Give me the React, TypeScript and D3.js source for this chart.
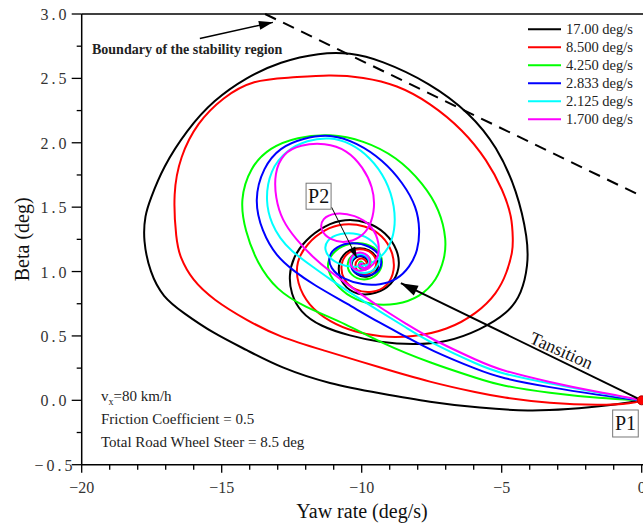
import * as d3 from "d3";
import React from "react";

// trajectories: [yaw rate (deg/s), beta (deg)], all start at P1 and spiral into P2
const traj17: [number, number][] = [
  [0, 0], [-1.13, -0.04], [-2.67, -0.07], [-3.99, -0.085], [-5.78, -0.06], [-7.56, -0.015],
  [-9.35, 0.055], [-11.13, 0.125], [-12.92, 0.255], [-14.1, 0.39], [-15.3, 0.52], [-16.38, 0.68],
  [-17.1, 0.8], [-17.56, 0.99], [-17.81, 1.245], [-17.74, 1.44], [-17.56, 1.555], [-17.1, 1.81],
  [-16.24, 2.1], [-15.3, 2.33], [-14.1, 2.51], [-12.92, 2.63], [-11.49, 2.7], [-10.42, 2.7],
  [-9.35, 2.645], [-7.56, 2.465], [-6.13, 2.23], [-5.17, 1.97], [-4.45, 1.63], [-4.06, 1.245],
  [-4.06, 1.05], [-4.28, 0.83], [-4.78, 0.675], [-5.78, 0.545], [-6.95, 0.45], [-8.17, 0.43],
  [-9.35, 0.45], [-10.42, 0.5], [-11.49, 0.575], [-12.2, 0.685], [-12.53, 0.83], [-12.6, 0.97],
  [-12.45, 1.11], [-12.02, 1.245], [-11.31, 1.36], [-10.6, 1.41], [-9.81, 1.39], [-9.13, 1.305],
  [-8.7, 1.165], [-8.63, 1.025], [-8.92, 0.895], [-9.49, 0.825], [-10.17, 0.815], [-10.7, 0.895],
  [-10.88, 1.025], [-10.7, 1.135], [-10.24, 1.19], [-9.7, 1.175], [-9.38, 1.095], [-9.42, 1.0],
  [-9.78, 0.95], [-10.2, 0.97], [-10.42, 1.05], [-10.24, 1.12], [-9.88, 1.12], [-9.7, 1.055],
  [-9.95, 1.01], [-10.06, 1.065], [-9.95, 1.065],
];

const traj8500: [number, number][] = [
  [0, 0], [-0.31, -0.025], [-1.49, -0.04], [-3.28, -0.025], [-5.06, 0.025], [-5.78, 0.055],
  [-7.56, 0.14], [-9.35, 0.255], [-11.38, 0.39], [-12.92, 0.49], [-14.1, 0.62], [-15.3, 0.78],
  [-16.06, 0.935], [-16.49, 1.11], [-16.63, 1.245], [-16.74, 1.61], [-16.49, 1.89], [-15.88, 2.155],
  [-14.95, 2.355], [-13.88, 2.49], [-12.56, 2.505], [-11.13, 2.53], [-9.95, 2.51], [-8.74, 2.45],
  [-7.56, 2.31], [-6.38, 2.1], [-5.52, 1.865], [-4.95, 1.63], [-4.63, 1.425], [-4.6, 1.245],
  [-4.6, 1.165], [-4.81, 0.99], [-5.17, 0.83], [-5.88, 0.675], [-6.95, 0.545], [-8.17, 0.49],
  [-9.35, 0.49], [-10.24, 0.53], [-11.13, 0.605], [-11.92, 0.74], [-12.31, 0.91], [-12.35, 1.075],
  [-11.95, 1.22], [-11.31, 1.33], [-10.67, 1.375], [-9.88, 1.36], [-9.24, 1.28], [-8.88, 1.15],
  [-8.81, 1.01], [-9.06, 0.885], [-9.63, 0.83], [-10.24, 0.85], [-10.67, 0.935], [-10.77, 1.05],
  [-10.56, 1.145], [-10.06, 1.185], [-9.6, 1.15], [-9.42, 1.065], [-9.6, 0.99], [-9.99, 0.965],
  [-10.27, 1.025], [-10.17, 1.105], [-9.85, 1.1], [-9.78, 1.04], [-9.95, 1.065],
];

const traj4250: [number, number][] = [
  [0, 0], [-1.49, 0.015], [-3.28, 0.055], [-5.06, 0.115], [-5.78, 0.165], [-7.56, 0.29],
  [-9.35, 0.45], [-10.52, 0.59], [-12.1, 0.73], [-13.03, 0.855], [-13.74, 1.065], [-14.17, 1.32],
  [-14.35, 1.555], [-13.99, 1.81], [-13.28, 1.965], [-12.31, 2.045], [-11.13, 2.07], [-9.95, 2.02],
  [-8.74, 1.89], [-7.81, 1.685], [-7.2, 1.475], [-6.97, 1.245], [-7.04, 1.1], [-7.31, 0.935],
  [-7.92, 0.8], [-8.74, 0.74], [-9.7, 0.74], [-10.42, 0.8], [-10.95, 0.9], [-11.3, 1.04],
  [-11.06, 1.145], [-10.6, 1.215], [-9.95, 1.23], [-9.42, 1.175], [-9.2, 1.075], [-9.42, 0.965],
  [-9.92, 0.925], [-10.42, 0.97], [-10.56, 1.065], [-10.31, 1.145], [-9.85, 1.145], [-9.6, 1.075],
  [-9.81, 1.0], [-10.17, 1.025], [-10.06, 1.09], [-9.95, 1.065],
];

const traj2833: [number, number][] = [
  [0, 0], [-0.31, 0.005], [-1.49, 0.04], [-3.28, 0.1], [-5.06, 0.175], [-5.78, 0.23],
  [-7.56, 0.39], [-8.38, 0.49], [-9.35, 0.6], [-10.52, 0.75], [-11.74, 0.9], [-12.4, 1.0],
  [-13.06, 1.12], [-13.56, 1.31], [-13.85, 1.555], [-13.52, 1.81], [-12.92, 1.965], [-12.1, 2.035],
  [-11.13, 2.07], [-10.17, 2.0], [-9.24, 1.865], [-8.53, 1.69], [-8.03, 1.5], [-7.92, 1.32],
  [-7.99, 1.165], [-8.28, 1.035], [-8.74, 0.935], [-9.35, 0.895], [-9.95, 0.895], [-10.67, 0.94],
  [-11.13, 1.025], [-11.2, 1.12], [-10.92, 1.195], [-10.35, 1.23], [-9.7, 1.2], [-9.31, 1.125],
  [-9.27, 1.03], [-9.63, 0.965], [-10.13, 0.965], [-10.45, 1.035], [-10.31, 1.12], [-9.85, 1.13],
  [-9.67, 1.055], [-9.92, 1.01], [-10.17, 1.055], [-9.95, 1.065],
];

const traj2125: [number, number][] = [
  [0, 0], [-1.49, 0.055], [-3.28, 0.13], [-5.06, 0.21], [-5.78, 0.27], [-7.56, 0.45],
  [-8.38, 0.56], [-9.35, 0.69], [-10.52, 0.85], [-11.13, 0.94], [-11.74, 1.035], [-12.56, 1.165],
  [-12.92, 1.26], [-13.2, 1.36], [-13.45, 1.54], [-13.28, 1.79], [-12.67, 1.945], [-11.96, 2.02],
  [-11.13, 2.045], [-10.42, 2.0], [-9.7, 1.89], [-9.1, 1.71], [-8.81, 1.5], [-8.81, 1.32],
  [-9.02, 1.18], [-9.45, 1.08], [-10.13, 1.025], [-10.85, 1.05], [-11.35, 1.145], [-11.28, 1.245],
  [-10.77, 1.3], [-10.13, 1.3], [-9.56, 1.235], [-9.31, 1.145], [-9.38, 1.04], [-9.78, 0.98],
  [-10.24, 0.995], [-10.45, 1.07], [-10.2, 1.145], [-9.77, 1.13], [-9.7, 1.05], [-9.99, 1.01],
  [-10.13, 1.07], [-9.95, 1.065],
];

const traj1700: [number, number][] = [
  [0, 0], [-0.31, 0.015], [-1.49, 0.06], [-3.28, 0.14], [-5.06, 0.235], [-5.78, 0.3],
  [-7.56, 0.48], [-8.38, 0.59], [-9.35, 0.72], [-10.52, 0.9], [-11.13, 1.0], [-11.74, 1.11],
  [-12.35, 1.25], [-12.85, 1.4], [-13.08, 1.57], [-13.12, 1.765], [-12.81, 1.92], [-12.2, 1.985],
  [-11.31, 2.0], [-10.52, 1.945], [-9.95, 1.81], [-9.6, 1.655], [-9.52, 1.5], [-9.7, 1.345],
  [-10.06, 1.26], [-10.6, 1.22], [-11.13, 1.245], [-11.49, 1.32], [-11.42, 1.415], [-10.95, 1.46],
  [-10.24, 1.44], [-9.63, 1.36], [-9.35, 1.22], [-9.42, 1.09], [-9.78, 1.01], [-10.24, 1.0],
  [-10.49, 1.07], [-10.27, 1.15], [-9.85, 1.15], [-9.63, 1.07], [-9.88, 1.01], [-10.17, 1.05],
  [-9.95, 1.065],
];

const seriesLabels = ["17.00 deg/s", "8.500 deg/s", "4.250 deg/s", "2.833 deg/s", "2.125 deg/s", "1.700 deg/s"];
const seriesColors = ["#000000", "#ff0000", "#00ff00", "#0000ff", "#00ffff", "#ff00ff"];
const seriesData = [traj17, traj8500, traj4250, traj2833, traj2125, traj1700];

// stability boundary (dashed)
const boundary: [number, number][] = [[-13.45, 3.0], [0, 1.585]];

const xTicks = [-20, -15, -10, -5, 0];
const yTicks = [-0.5, 0, 0.5, 1.0, 1.5, 2.0, 2.5, 3.0];

const W = 643;
const H = 527;
const xScale = d3.scaleLinear().domain([-20, 0]).range([81.7, 641.7]);
const yScale = d3.scaleLinear().domain([-0.5, 3]).range([464.7, 14]);

const serif = "'Liberation Serif', 'Times New Roman', serif";

function arrowHead(x1: number, y1: number, x2: number, y2: number, len: number, half: number) {
  const a = Math.atan2(y2 - y1, x2 - x1);
  const bx = x2 - len * Math.cos(a);
  const by = y2 - len * Math.sin(a);
  const px = -Math.sin(a) * half;
  const py = Math.cos(a) * half;
  return `${x2},${y2} ${bx + px},${by + py} ${bx - px},${by - py}`;
}

export default function App() {
  const line = d3
    .line<[number, number]>()
    .x((d) => xScale(d[0]))
    .y((d) => yScale(d[1]))
    .curve(d3.curveBasis);

  const straight = d3
    .line<[number, number]>()
    .x((d) => xScale(d[0]))
    .y((d) => yScale(d[1]));

  const minorX = d3.range(-20, 0.001, 1);
  const minorY = d3.range(-0.5, 3.001, 0.25);
  const fmt = d3.format(".1f");

  const x0 = xScale.range()[0];
  const yB = yScale.range()[0];
  const yT = yScale.range()[1];

  // annotation anchors
  const p1 = [xScale(0), yScale(0)];
  const transTip = [xScale(-8.6), yScale(0.91)];
  const bStart = [xScale(-15.78), yScale(2.81)];
  const bTip = [xScale(-13.17), yScale(2.935)];
  const p2Box = [xScale(-11.54), yScale(1.585)];
  const p2Tip = [xScale(-10.17), yScale(1.105)];
  const p1Box = [xScale(-0.58), yScale(-0.18)];
  const transAngle = (Math.atan2(p1[1] - transTip[1], p1[0] - transTip[0]) * 180) / Math.PI;

  return (
    <svg
      width={W}
      height={H}
      style={{ position: "absolute", left: 0, top: 0, background: "#fff" }}
      fontFamily={serif}
    >
      {/* trajectories */}
      {seriesData.map((s, i) => (
        <path key={i} d={line(s) || ""} fill="none" stroke={seriesColors[i]} strokeWidth={2} strokeLinejoin="round" />
      ))}

      {/* boundary */}
      <path d={straight(boundary) || ""} fill="none" stroke="#000" strokeWidth={2} strokeDasharray="12,8" />

      {/* frame */}
      <line x1={x0} x2={W} y1={yT} y2={yT} stroke="#000" strokeWidth={1.5} />
      <line x1={x0} x2={W} y1={yB} y2={yB} stroke="#000" strokeWidth={1.5} />
      <line x1={x0} x2={x0} y1={yT} y2={yB} stroke="#000" strokeWidth={1.5} />

      {/* x ticks */}
      {minorX.map((v) => (
        <line key={"mx" + v} x1={xScale(v)} x2={xScale(v)} y1={yB} y2={yB + (v % 5 === 0 ? 8 : 5)} stroke="#000" strokeWidth={1.3} />
      ))}
      {xTicks.map((v) => (
        <text key={"tx" + v} x={xScale(v)} y={493} textAnchor="middle" fontSize={16} fill="#333">
          {v < 0 ? "\u2212" + Math.abs(v) : String(v)}
        </text>
      ))}

      {/* y ticks */}
      {minorY.map((v) => (
        <line key={"my" + v} x1={x0 - (Math.abs((v * 2) % 1) < 1e-6 ? 10 : 5)} x2={x0} y1={yScale(v)} y2={yScale(v)} stroke="#000" strokeWidth={1.3} />
      ))}
      {yTicks.map((v) => (
        <text key={"ty" + v} x={55} y={yScale(v) + 6} textAnchor="middle" fontSize={16} letterSpacing={3} fill="#333">
          {fmt(v)}
        </text>
      ))}

      {/* axis titles */}
      <text x={362} y={518} textAnchor="middle" fontSize={20} fill="#111">
        Yaw rate (deg/s)
      </text>
      <text transform={`translate(29, ${(yT + yB) / 2}) rotate(-90)`} textAnchor="middle" fontSize={20} fill="#111">
        Beta (deg)
      </text>

      {/* legend */}
      {seriesLabels.map((lab, i) => (
        <g key={lab} transform={`translate(528, ${29.3 + 18 * i})`}>
          <line x1={0} x2={33} y1={0} y2={0} stroke={seriesColors[i]} strokeWidth={2} />
          <text x={38} y={5} fontSize={14.5} fill="#222">
            {lab}
          </text>
        </g>
      ))}

      {/* boundary annotation */}
      <text x={92} y={54} fontSize={14} fontWeight="bold" fill="#222">
        Boundary of the stability region
      </text>
      <line x1={bStart[0]} y1={bStart[1]} x2={bTip[0]} y2={bTip[1]} stroke="#000" strokeWidth={1.5} />
      <polygon points={arrowHead(bStart[0], bStart[1], bTip[0], bTip[1], 14, 4.5)} fill="#000" />

      {/* transition arrow */}
      <line x1={p1[0]} y1={p1[1]} x2={transTip[0]} y2={transTip[1]} stroke="#000" strokeWidth={2} />
      <polygon points={arrowHead(p1[0], p1[1], transTip[0], transTip[1], 17, 5.5)} fill="#000" />
      <text transform={`translate(559, 356) rotate(${transAngle - 2})`} textAnchor="middle" fontSize={18} fill="#111">
        Tansition
      </text>

      {/* P2 */}
      <line x1={p2Box[0] + 13} y1={p2Box[1] + 11} x2={p2Tip[0]} y2={p2Tip[1]} stroke="#000" strokeWidth={1} />
      <polygon points={arrowHead(p2Box[0] + 13, p2Box[1] + 11, p2Tip[0], p2Tip[1], 11, 3.5)} fill="#000" />
      <rect x={p2Box[0] - 12.5} y={p2Box[1] - 13} width={25} height={26} fill="#fff" stroke="#777" strokeWidth={1} />
      <text x={p2Box[0]} y={p2Box[1] + 7} textAnchor="middle" fontSize={20} fill="#111">
        P2
      </text>

      {/* P1 */}
      <circle cx={p1[0]} cy={p1[1]} r={4.5} fill="#ff0000" stroke="#b00000" strokeWidth={1} />
      <rect x={p1Box[0] - 12.8} y={p1Box[1] - 13.5} width={25.6} height={27} fill="#fff" stroke="#777" strokeWidth={1} />
      <text x={p1Box[0]} y={p1Box[1] + 7} textAnchor="middle" fontSize={20} fill="#111">
        P1
      </text>

      {/* conditions */}
      <text x={101} y={401} fontSize={15} fill="#222">
        v<tspan fontSize={10} dy={4}>x</tspan>
        <tspan dy={-4}>=80 km/h</tspan>
      </text>
      <text x={101} y={424} fontSize={15} fill="#222">
        Friction Coefficient = 0.5
      </text>
      <text x={101} y={447} fontSize={15} fill="#222">
        Total Road Wheel Steer = 8.5 deg
      </text>
    </svg>
  );
}
